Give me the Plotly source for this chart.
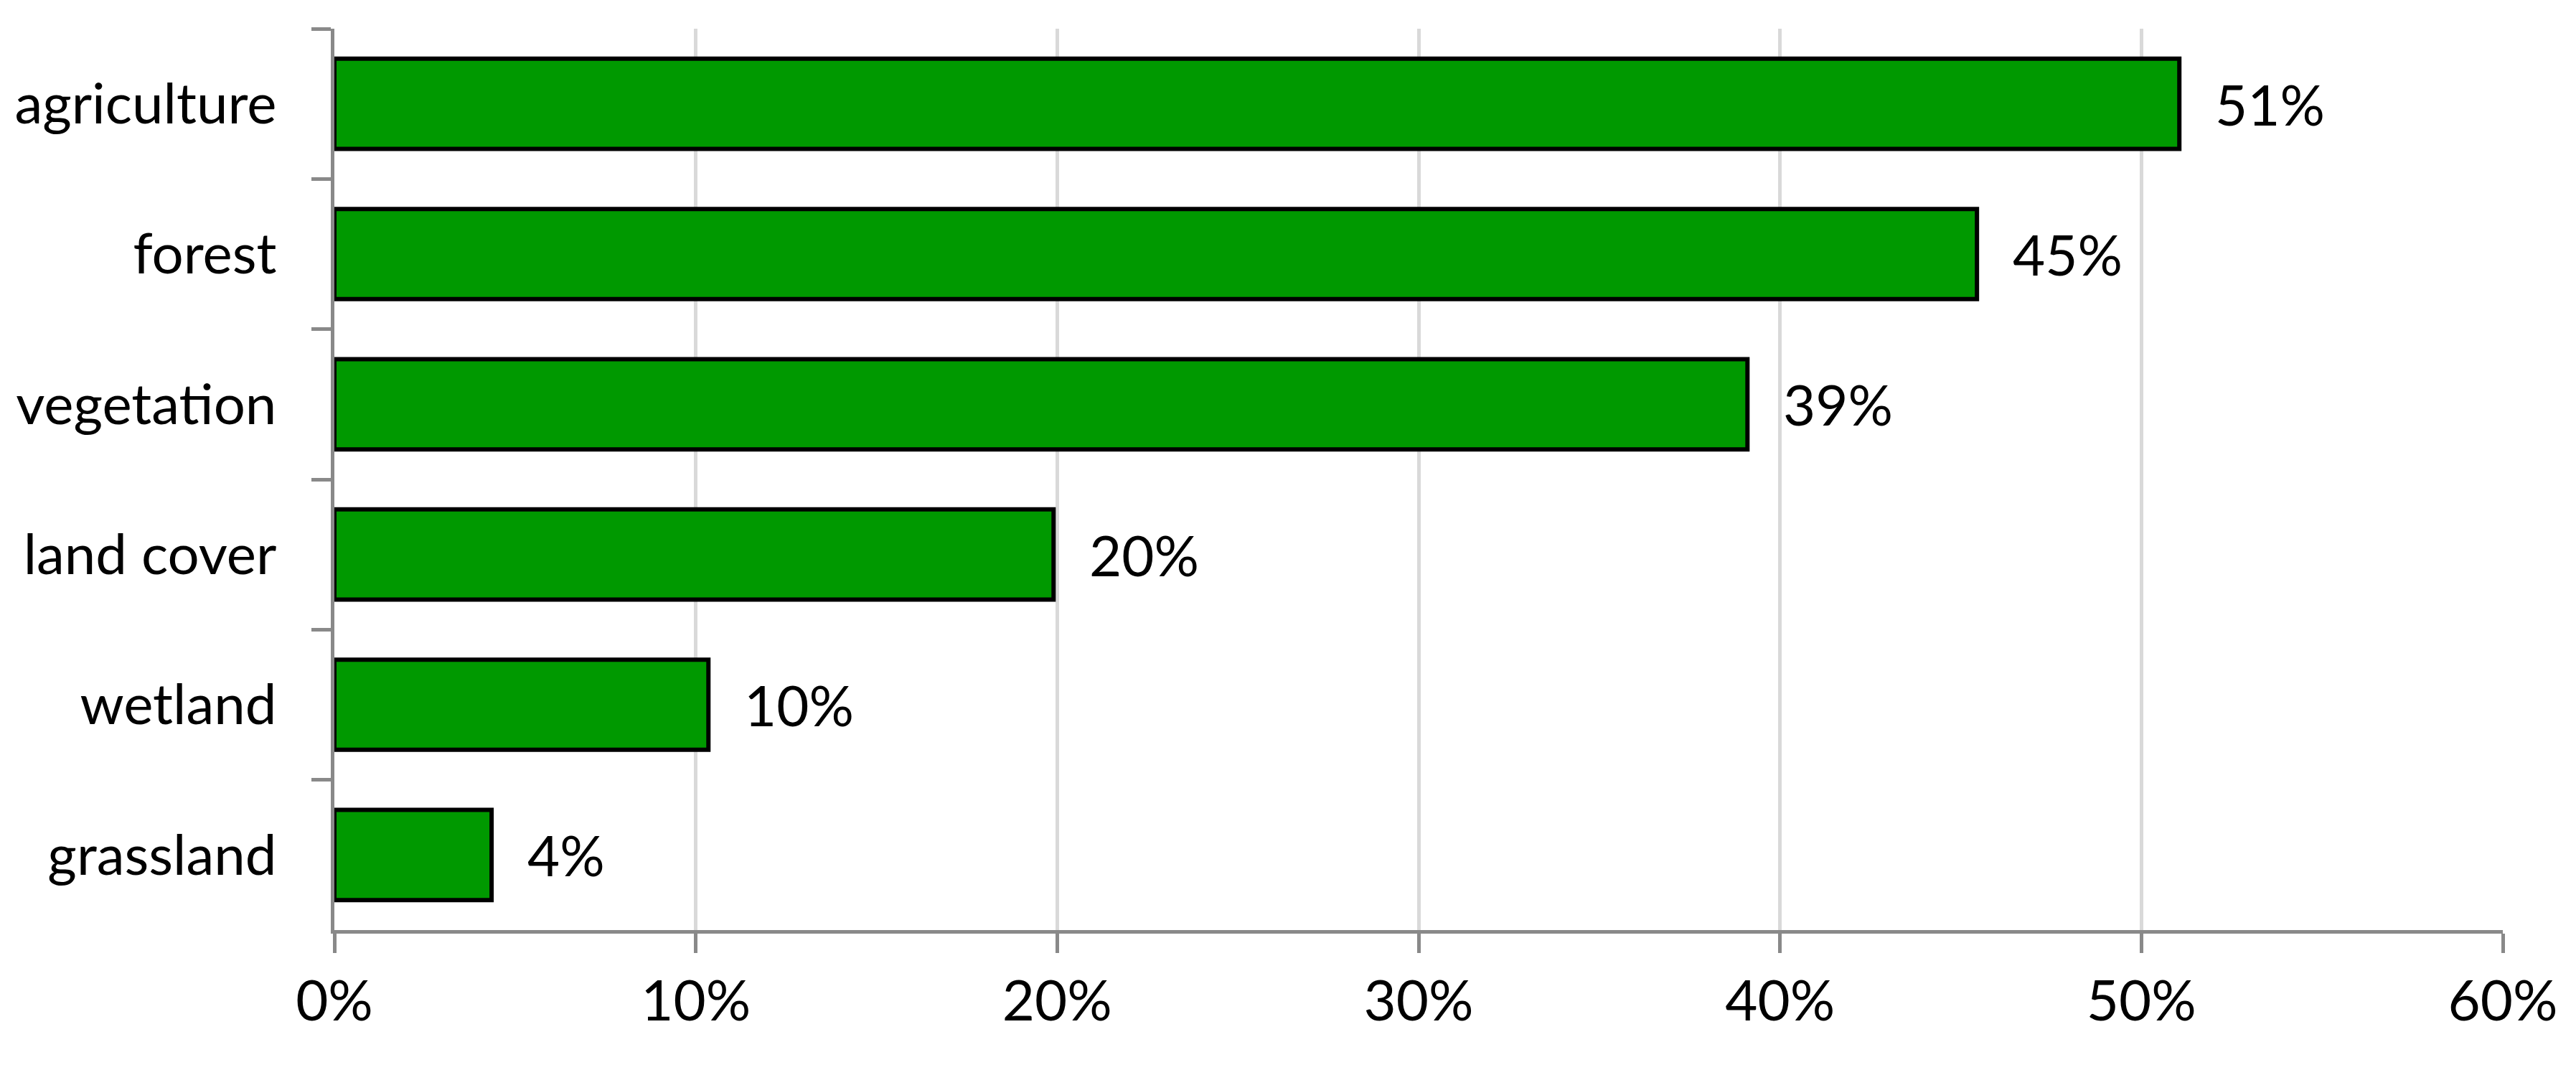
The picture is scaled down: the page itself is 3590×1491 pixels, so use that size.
import plotly.graph_objects as go

categories = ["agriculture", "forest", "vegetation", "land cover", "wetland", "grassland"]
values = [51.05, 45.45, 39.1, 19.9, 10.35, 4.35]
value_labels = ["51%", "45%", "39%", "20%", "10%", "4%"]
x_ticks = [0, 10, 20, 30, 40, 50, 60]
x_tick_labels = ["0%", "10%", "20%", "30%", "40%", "50%", "60%"]

FONT = "Lato"
FS = 78

fig = go.Figure()
fig.add_trace(go.Bar(
    y=categories, x=values, orientation="h",
    marker=dict(color="#009900", line=dict(color="#000000", width=6)),
    width=0.6,
    hoverinfo="skip",
))

for c, v, t in zip(categories, values, value_labels):
    fig.add_annotation(x=v, y=c, text=t, showarrow=False, xanchor="left",
                       xshift=48, font=dict(family=FONT, size=FS, color="#000000"))

fig.update_layout(
    width=3590, height=1491,
    margin=dict(l=458, r=110, t=32, b=203),
    paper_bgcolor="white", plot_bgcolor="white",
    showlegend=False,
    font=dict(family=FONT, size=FS, color="#000000"),
)
fig.update_xaxes(
    range=[0, 60], tickvals=x_ticks, ticktext=x_tick_labels,
    showgrid=True, gridcolor="#d9d9d9", gridwidth=5,
    showline=True, linecolor="#898989", linewidth=5,
    ticks="outside", ticklen=27, tickwidth=5, tickcolor="#898989",
    zeroline=False, ticklabelstandoff=0,
)
fig.update_yaxes(
    categoryorder="array", categoryarray=categories, autorange="reversed",
    showline=True, linecolor="#898989", linewidth=5,
    ticks="outside", ticklen=27, tickwidth=5, tickcolor="#898989",
    tickson="boundaries", showgrid=False, ticklabelstandoff=60,
)

fig.write_html("out.html")
